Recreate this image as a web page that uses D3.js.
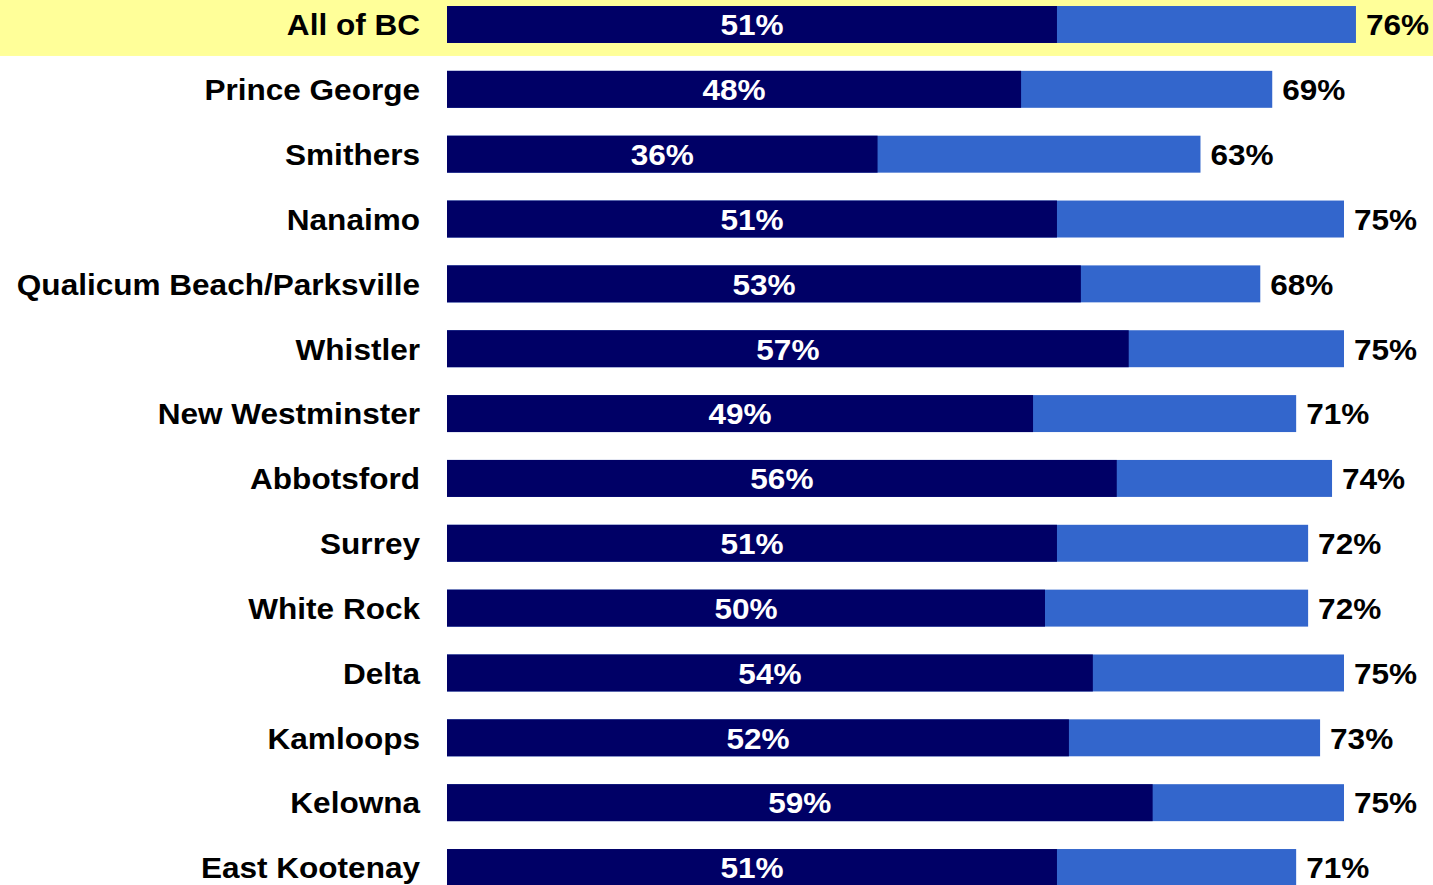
<!DOCTYPE html>
<html>
<head>
<meta charset="utf-8">
<script src="https://cdn.jsdelivr.net/npm/d3@7"></script>
<style>
  html, body { margin: 0; padding: 0; background: #ffffff; }
  svg { display: block; }
  text { font-family: "Liberation Sans", Arial, Helvetica, sans-serif; font-weight: bold; }
</style>
</head>
<body>
<svg id="chart" width="1433" height="885"></svg>
<script>
// Regions surveyed
const categories = [
  "All of BC", "Prince George", "Smithers", "Nanaimo", "Qualicum Beach/Parksville",
  "Whistler", "New Westminster", "Abbotsford", "Surrey", "White Rock",
  "Delta", "Kamloops", "Kelowna", "East Kootenay"
];
// Inner (dark) share, percent
const innerValues = [51, 48, 36, 51, 53, 57, 49, 56, 51, 50, 54, 52, 59, 51];
// Total (outer) share, percent
const totalValues = [76, 69, 63, 75, 68, 75, 71, 74, 72, 72, 75, 73, 75, 71];
const highlighted = "All of BC";

const data = categories.map((c, i) => ({ cat: c, inner: innerValues[i], total: totalValues[i] }));

const svg = d3.select("#chart");
const W = 1433, H = 885;

const x = d3.scaleLinear().domain([0, 100]).range([447, 1643]);
const y = d3.scaleBand().domain(categories).range([6, 886]).paddingInner(0.43).paddingOuter(0);

// Highlight band behind the provincial total row
svg.append("rect")
  .attr("x", 0).attr("width", W)
  .attr("y", y(highlighted) - 6)
  .attr("height", y.bandwidth() + 19)
  .attr("fill", "#ffff99");

const rows = svg.selectAll("g.row").data(data).join("g").attr("class", "row");

// Total bar (light blue), then inner bar (navy) on top
rows.append("rect")
  .attr("x", x(0)).attr("y", d => y(d.cat))
  .attr("width", d => x(d.total) - x(0))
  .attr("height", y.bandwidth())
  .attr("fill", "#3366cc");

rows.append("rect")
  .attr("x", x(0)).attr("y", d => y(d.cat))
  .attr("width", d => x(d.inner) - x(0))
  .attr("height", y.bandwidth())
  .attr("fill", "#000066");

const fs = 30;
const stretch = 1.052; // slightly wide lettering
const mid = d => y(d.cat) + y.bandwidth() / 2;

function label(sel, xFn, anchor, fill, textFn) {
  sel.append("text")
    .attr("transform", d => `translate(${xFn(d)},${mid(d)}) scale(${stretch},1)`)
    .attr("dy", "0.36em")
    .attr("text-anchor", anchor)
    .attr("font-size", fs)
    .attr("fill", fill)
    .text(textFn);
}

// Category labels
label(rows, () => 420, "end", "#000", d => d.cat);
// Inner value labels (white, centred on dark bar)
label(rows, d => (x(0) + x(d.inner)) / 2, "middle", "#fff", d => d.inner + "%");
// Total value labels after the bar end
label(rows, d => x(d.total) + 10, "start", "#000", d => d.total + "%");
</script>
</body>
</html>
